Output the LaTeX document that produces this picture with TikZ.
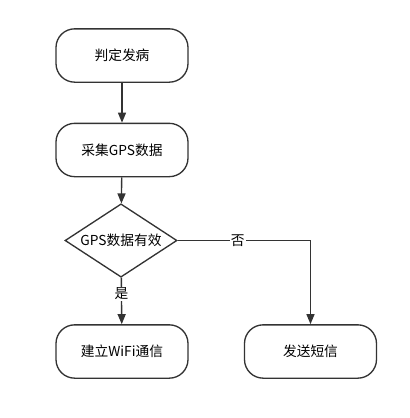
\documentclass[tikz,border=0pt]{standalone}
\usepackage{fontspec}
\setmainfont{Noto Sans CJK SC}
\usepackage{tikz}
\usetikzlibrary{shapes.geometric, arrows.meta, positioning}
\definecolor{linegray}{RGB}{51,51,51}

\begin{document}
\begin{tikzpicture}[
    x=0.75pt, y=-0.75pt,
    step box/.style={rectangle, draw=linegray, line width=1pt, rounded corners=14pt,
                    minimum width=99pt, minimum height=40pt, align=center, font=\fontsize{10.3}{12}\selectfont},
    decision/.style={diamond, aspect=1.53, draw=linegray, line width=1pt, inner sep=0pt,
                    minimum width=84pt, minimum height=55pt, font=\fontsize{10.3}{12}\selectfont},
    flow/.style={-{Triangle[length=7.5pt, width=6pt]}, draw=linegray, line width=1pt},
    branch/.style={fill=white, inner sep=1pt, font=\fontsize{10.3}{12}\selectfont}
]
    \useasboundingbox (0,0) rectangle (410,418);

    \node[step box] (onset) at (122, 55.5) {判定发病};
    \node[step box] (collect) at (122, 150) {采集GPS数据};
    \node[decision] (valid) at (121, 240.5) {GPS数据有效};
    \node[step box] (wifi) at (122, 351.5) {建立WiFi通信};
    \node[step box] (sms) at (310.5, 351.5) {发送短信};

    \draw[flow] (onset) -- (collect);
    \draw[flow] (collect) -- (valid);
    \draw[flow] (valid) -- node[branch, pos=0.35] {是} (wifi);
    \draw[flow] (valid.east) -| node[branch, pos=0.226] {否} (sms);
\end{tikzpicture}
\end{document}
